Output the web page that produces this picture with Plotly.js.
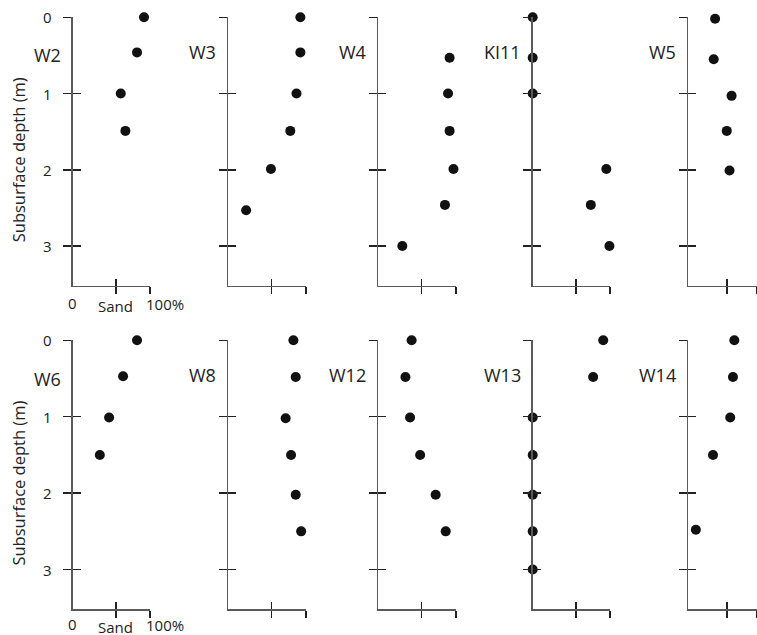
<!DOCTYPE html>
<html><head><meta charset="utf-8">
<script src="https://cdn.plot.ly/plotly-3.0.1.min.js"></script>
<style>html,body{margin:0;padding:0;background:#fff}</style>
</head><body>
<div id="chart" style="width:757px;height:635px"></div>
<script>
// ---- data (depth in m, sand in %) ----
const wellNames = ["W2","W3","W4","KI11","W5","W6","W8","W12","W13","W14"];
const depthTicks = [0,1,2,3];
const depthTickLabels = ["0","1","2","3"];
const sandTicks = [56,100];
const sandLabels = ["0","Sand","100%"];
const yTitle = "Subsurface depth (m)";

const W2_depth  = [0,0.46,1.0,1.49];            const W2_sand  = [92,83,62,68];
const W3_depth  = [0,0.46,1.0,1.49,1.99,2.53];  const W3_sand  = [93,93,88,80,55,23];
const W4_depth  = [0.53,1.0,1.49,1.99,2.46,3.0];const W4_sand  = [92,90,92,97,86,31];
const KI11_depth= [0,0.53,1.0,1.99,2.46,3.0];   const KI11_sand= [0,0,0,95,75,99];
const W5_depth  = [0.02,0.55,1.03,1.49,2.01];   const W5_sand  = [39,37,63,56,60];
const W6_depth  = [0,0.47,1.01,1.5];            const W6_sand  = [83,65,47,35];
const W8_depth  = [0,0.48,1.02,1.5,2.02,2.5];   const W8_sand  = [84,87,74,81,87,94];
const W12_depth = [0,0.48,1.01,1.5,2.02,2.5];   const W12_sand = [43,35,41,54,74,87];
const W13_depth = [0,0.48,1.01,1.5,2.02,2.5,3.0]; const W13_sand = [91,78,0,0,0,0,0];
const W14_depth = [0,0.48,1.01,1.5,2.48];       const W14_sand = [67,65,61,36,11];

const wellDepths = [W2_depth,W3_depth,W4_depth,KI11_depth,W5_depth,W6_depth,W8_depth,W12_depth,W13_depth,W14_depth];
const wellSand   = [W2_sand,W3_sand,W4_sand,KI11_sand,W5_sand,W6_sand,W8_sand,W12_sand,W13_sand,W14_sand];

// ---- layout geometry (pixels) ----
const W = 757, H = 635;
const colAxisX = [72.7, 228.3, 378.3, 532.7, 688.3];
const plotW = 77.5;
const rowTop = [17.3, 340.3], rowBottom = [285.7, 609.3];
const depthMax = 3.52;

const FONT = "Open Sans, Noto Sans, sans-serif";
const LINE = "#5a5a5a", TICK = "#222";

const traces = [];
const layout = {
  width: W, height: H,
  margin: {l:0, r:0, t:0, b:0, autoexpand:false},
  paper_bgcolor: "#fff", plot_bgcolor: "rgba(0,0,0,0)",
  showlegend: false,
  font: {family: FONT, size: 15, color: "#222"},
  annotations: []
};

for (let i = 0; i < 10; i++) {
  const k = i + 1, ko = i + 11;
  const row = Math.floor(i / 5), col = i % 5;
  const xd = [colAxisX[col] / W, (colAxisX[col] + plotW) / W];
  const yd = [1 - rowBottom[row] / H, 1 - rowTop[row] / H];
  const first = col === 0;

  layout["xaxis" + k] = {
    domain: xd, range: [0, 100], anchor: "y" + k,
    showline: true, linecolor: LINE, linewidth: 1.5,
    ticks: "outside", ticklen: 7, tickwidth: 1.5, tickcolor: TICK,
    tickvals: sandTicks, showticklabels: false,
    showgrid: false, zeroline: false, fixedrange: true
  };
  layout["yaxis" + k] = {
    domain: yd, range: [depthMax, 0], anchor: "x" + k,
    showline: true, linecolor: LINE, linewidth: 1.5,
    ticks: "outside", ticklen: 8, tickwidth: 1.5, tickcolor: TICK,
    tickvals: depthTicks, showticklabels: false,
    showgrid: false, zeroline: false, fixedrange: true
  };
  // overlay axes to make ticks cross the axis lines
  layout["xaxis" + ko] = {
    overlaying: "x" + k, anchor: "y" + k, range: [0, 100],
    showline: false, ticks: "inside", ticklen: 7, tickwidth: 1.5, tickcolor: TICK,
    tickvals: sandTicks, showticklabels: false,
    showgrid: false, zeroline: false, fixedrange: true
  };
  layout["yaxis" + ko] = {
    overlaying: "y" + k, anchor: "x" + k, range: [depthMax, 0],
    showline: false, ticks: "inside", ticklen: 8, tickwidth: 1.5, tickcolor: TICK,
    tickvals: depthTicks, showticklabels: false,
    showgrid: false, zeroline: false, fixedrange: true
  };
  traces.push({x: [], y: [], type: "scatter", mode: "markers", xaxis: "x" + ko, yaxis: "y" + k, hoverinfo: "skip"});
  traces.push({x: [], y: [], type: "scatter", mode: "markers", xaxis: "x" + k, yaxis: "y" + ko, hoverinfo: "skip"});

  traces.push({
    x: wellSand[i], y: wellDepths[i], type: "scatter", mode: "markers",
    xaxis: "x" + k, yaxis: "y" + k, cliponaxis: false,
    marker: {size: 10, color: "#111"}, hoverinfo: "skip"
  });

  // well name
  layout.annotations.push({
    text: wellNames[i], xref: "x" + k + " domain", yref: "y" + k,
    x: 0, y: first ? 0.5 : 0.45, xanchor: "right", yanchor: "middle", xshift: -10,
    showarrow: false, font: {family: FONT, size: 18, color: "#222"}
  });

  if (first) {
    // depth tick labels
    for (let j = 0; j < depthTicks.length; j++) {
      layout.annotations.push({
        text: depthTickLabels[j], xref: "x" + k + " domain", yref: "y" + k,
        x: 0, y: depthTicks[j], xanchor: "right", yanchor: "middle", xshift: -19,
        showarrow: false, font: {family: FONT, size: 15, color: "#222"}
      });
    }
    layout.annotations.push({
      text: yTitle, xref: "x" + k + " domain", yref: "y" + k + " domain",
      x: 0, y: 0.47, xshift: -54, textangle: -90, xanchor: "center", yanchor: "middle",
      showarrow: false, font: {family: FONT, size: 16.5, color: "#222"}
    });
    const labX = [0, 0.55, 1.19];
    const labShift = row === 0 ? [-5, -8, -6] : [-3, -6, -4];
    for (let j = 0; j < 3; j++) {
      layout.annotations.push({
        text: sandLabels[j], xref: "x" + k + " domain", yref: "y" + k + " domain",
        x: labX[j], y: 0, xanchor: "center", yanchor: "top", yshift: labShift[j],
        showarrow: false, font: {family: FONT, size: 15, color: "#222"}
      });
    }
  }
}

Plotly.newPlot("chart", traces, layout, {displayModeBar: false, staticPlot: true});
</script>
</body></html>
